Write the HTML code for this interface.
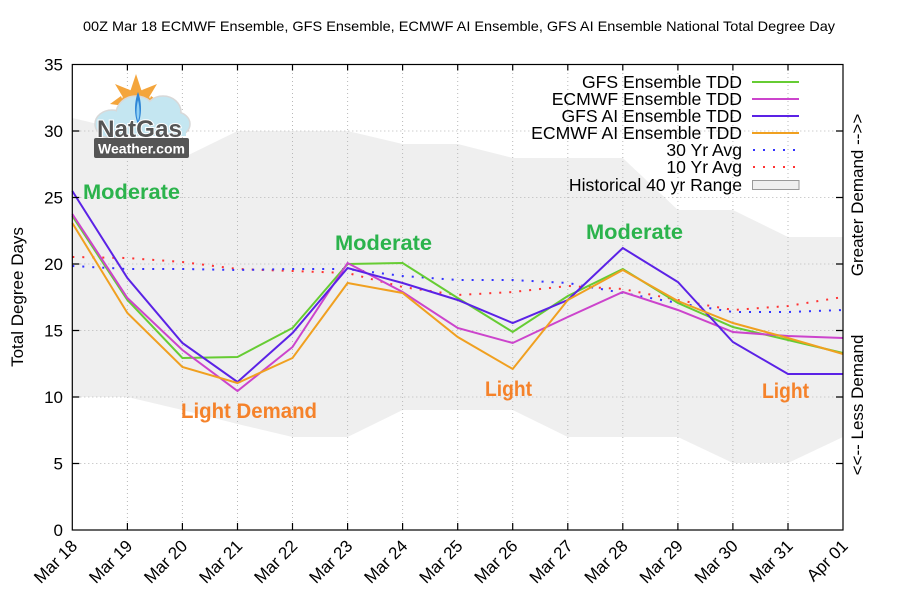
<!DOCTYPE html>
<html><head><meta charset="utf-8"><style>
html,body{margin:0;padding:0;background:#fff;}
svg{display:block;font-family:"Liberation Sans",Arial,sans-serif;}
</style></head><body>
<svg width="900" height="600" viewBox="0 0 900 600" xmlns="http://www.w3.org/2000/svg">
<rect width="900" height="600" fill="#fff"/>
<text x="83" y="31" font-size="14" textLength="752" lengthAdjust="spacingAndGlyphs" fill="#000">00Z Mar 18 ECMWF Ensemble, GFS Ensemble, ECMWF AI Ensemble, GFS AI Ensemble National Total Degree Day</text>

<!-- historical band -->
<polygon fill="#efefef" points="72.3,118 127.4,131 182.4,158 237.5,131 292.5,131 347.6,131 402.6,144 457.7,144 512.7,158 567.8,158 622.8,158 677.9,210 732.9,210 788,237 843,237 843,437 788,463 732.9,463 677.9,437 622.8,437 567.8,437 512.7,410 457.7,410 402.6,410 347.6,437 292.5,437 237.5,424 182.4,410 127.4,397 72.3,397"/>

<!-- grid -->
<g stroke="#b8b8b8" stroke-width="1" stroke-dasharray="1 3" fill="none">
<path d="M72.3,463.5H843M72.3,397H843M72.3,330.5H843M72.3,264H843M72.3,197.5H843M72.3,131H843"/>
<path d="M127.4,65V530M182.4,65V530M237.5,65V530M292.5,65V530M347.6,65V530M402.6,65V530M457.7,65V530M512.7,65V530M567.8,65V530M622.8,65V530M677.9,65V530M732.9,65V530M788,65V530"/>
</g>

<!-- logo -->
<g>
<g fill="#f4a53c">
<polygon points="136,74 130,92 142,92"/>
<polygon points="115,84 124,99 130,90"/>
<polygon points="157,84 148,99 142,90"/>
<polygon points="110,104 125,106 121,96"/>
<polygon points="162,104 147,106 151,96"/>
<circle cx="136" cy="104" r="15"/>
</g>
<g fill="#c4e6f1" stroke="#d8d8d8" stroke-width="1.5">
<ellipse cx="112" cy="124" rx="17" ry="14"/>
<ellipse cx="136" cy="114" rx="20" ry="18"/>
<ellipse cx="163" cy="112" rx="18" ry="16"/>
<ellipse cx="176" cy="124" rx="14" ry="12"/>
</g>
<g fill="#c4e6f1">
<ellipse cx="112" cy="124" rx="16" ry="13"/>
<ellipse cx="136" cy="114" rx="19" ry="17"/>
<ellipse cx="163" cy="112" rx="17" ry="15"/>
<ellipse cx="176" cy="124" rx="13" ry="11"/>
<rect x="100" y="118" width="86" height="18"/>
</g>
<path d="M138,92 C134,102 134,116 138,124 C142,116 142,102 138,92Z" fill="#2f86d6"/>
<path d="M138,100 C136,108 136,116 138,121 C140,116 140,108 138,100Z" fill="#8fd0f5"/>
<text x="97" y="137" font-size="24" font-weight="bold" fill="#555" stroke="#fff" stroke-width="2" paint-order="stroke" textLength="85" lengthAdjust="spacingAndGlyphs">NatGas</text>
<rect x="94" y="138" width="95" height="20" rx="2" fill="#555"/>
<text x="141.5" y="153.5" font-size="14" font-weight="bold" fill="#fff" text-anchor="middle" textLength="87" lengthAdjust="spacingAndGlyphs">Weather.com</text>
</g>

<!-- series -->
<g fill="none" stroke-width="2" stroke-linejoin="miter">
<polyline stroke="#ff3333" stroke-dasharray="2 8" points="72.3,257 127.4,258 182.4,262 237.5,269 292.5,271 347.6,273 402.6,287 457.7,295 512.7,292 567.8,286 622.8,289 677.9,300 732.9,310 788,306 843,297"/>
<polyline stroke="#3333ff" stroke-dasharray="2 8" points="72.3,266 127.4,269 182.4,269 237.5,270 292.5,269 347.6,269 402.6,276 457.7,280 512.7,280 567.8,283 622.8,293 677.9,303 732.9,312 788,312 843,310"/>
<polyline stroke="#66cc33" points="72.3,216 127.4,300 182.4,358 237.5,357 292.5,328 347.6,264 402.6,263 457.7,298 512.7,332 567.8,296 622.8,269 677.9,303 732.9,327 788,340 843,353"/>
<polyline stroke="#cc44cc" points="72.3,214 127.4,298 182.4,350 237.5,391 292.5,347 347.6,263 402.6,292 457.7,328 512.7,343 567.8,317 622.8,292 677.9,310 732.9,332 788,336 843,338"/>
<polyline stroke="#5b22e6" points="72.3,191 127.4,278 182.4,343 237.5,382 292.5,333 347.6,268 402.6,283 457.7,300 512.7,323 567.8,300 622.8,248 677.9,282 732.9,342 788,374 843,374"/>
<polyline stroke="#f0a020" points="72.3,223 127.4,313 182.4,367 237.5,383 292.5,358 347.6,283 402.6,293 457.7,337 512.7,369 567.8,300 622.8,270 677.9,301 732.9,323 788,338 843,354"/>
</g>

<!-- annotations -->
<g font-weight="bold" font-size="21">
<text x="83" y="199" fill="#2bb34c" textLength="97" lengthAdjust="spacingAndGlyphs">Moderate</text>
<text x="335" y="250" fill="#2bb34c" textLength="97" lengthAdjust="spacingAndGlyphs">Moderate</text>
<text x="586" y="239" fill="#2bb34c" textLength="97" lengthAdjust="spacingAndGlyphs">Moderate</text>
<text x="181" y="418" fill="#f5822a" textLength="136" lengthAdjust="spacingAndGlyphs">Light Demand</text>
<text x="485" y="396" fill="#f5822a" textLength="47" lengthAdjust="spacingAndGlyphs">Light</text>
<text x="762" y="398" fill="#f5822a" textLength="47" lengthAdjust="spacingAndGlyphs">Light</text>
</g>

<!-- border and ticks -->
<g stroke="#000" stroke-width="1.2" fill="none">
<rect x="72.3" y="64.5" width="770.7" height="465.5"/>
<path d="M72.3,463.5h7M72.3,397h7M72.3,330.5h7M72.3,264h7M72.3,197.5h7M72.3,131h7"/>
<path d="M843,463.5h-7M843,397h-7M843,330.5h-7M843,264h-7M843,197.5h-7M843,131h-7"/>
<path d="M127.4,530v-7M182.4,530v-7M237.5,530v-7M292.5,530v-7M347.6,530v-7M402.6,530v-7M457.7,530v-7M512.7,530v-7M567.8,530v-7M622.8,530v-7M677.9,530v-7M732.9,530v-7M788,530v-7"/>
<path d="M127.4,64.5v6M182.4,64.5v6M237.5,64.5v6M292.5,64.5v6M347.6,64.5v6M402.6,64.5v6M457.7,64.5v6M512.7,64.5v6M567.8,64.5v6M622.8,64.5v6M677.9,64.5v6M732.9,64.5v6M788,64.5v6"/>
</g>

<!-- y tick labels -->
<g font-size="17" text-anchor="end" fill="#000">
<text x="63" y="536">0</text>
<text x="63" y="469.5">5</text>
<text x="63" y="403">10</text>
<text x="63" y="336.5">15</text>
<text x="63" y="270">20</text>
<text x="63" y="203.5">25</text>
<text x="63" y="137">30</text>
<text x="63" y="70.5">35</text>
</g>

<!-- x tick labels -->
<g font-size="17" text-anchor="end" fill="#000">
<text transform="translate(78.3,547) rotate(-45)">Mar 18</text>
<text transform="translate(133.4,547) rotate(-45)">Mar 19</text>
<text transform="translate(188.4,547) rotate(-45)">Mar 20</text>
<text transform="translate(243.5,547) rotate(-45)">Mar 21</text>
<text transform="translate(298.5,547) rotate(-45)">Mar 22</text>
<text transform="translate(353.6,547) rotate(-45)">Mar 23</text>
<text transform="translate(408.6,547) rotate(-45)">Mar 24</text>
<text transform="translate(463.7,547) rotate(-45)">Mar 25</text>
<text transform="translate(518.7,547) rotate(-45)">Mar 26</text>
<text transform="translate(573.8,547) rotate(-45)">Mar 27</text>
<text transform="translate(628.8,547) rotate(-45)">Mar 28</text>
<text transform="translate(683.9,547) rotate(-45)">Mar 29</text>
<text transform="translate(738.9,547) rotate(-45)">Mar 30</text>
<text transform="translate(794,547) rotate(-45)">Mar 31</text>
<text transform="translate(849,547) rotate(-45)">Apr 01</text>
</g>

<!-- axis titles -->
<text transform="translate(23,297) rotate(-90)" font-size="17" text-anchor="middle" fill="#000">Total Degree Days</text>
<text transform="translate(863,195) rotate(-90)" font-size="17" text-anchor="middle" fill="#000">Greater Demand --&gt;&gt;</text>
<text transform="translate(863,405) rotate(-90)" font-size="17" text-anchor="middle" fill="#000">&lt;&lt;-- Less Demand</text>

<!-- legend -->
<g font-size="17.6" text-anchor="end" fill="#000">
<text x="742" y="88">GFS Ensemble TDD</text>
<text x="742" y="105">ECMWF Ensemble TDD</text>
<text x="742" y="122">GFS AI Ensemble TDD</text>
<text x="742" y="139">ECMWF AI Ensemble TDD</text>
<text x="742" y="156">30 Yr Avg</text>
<text x="742" y="173">10 Yr Avg</text>
<text x="742" y="191">Historical 40 yr Range</text>
</g>
<g fill="none" stroke-width="2">
<path d="M752,82H799" stroke="#66cc33"/>
<path d="M752,99H799" stroke="#cc44cc"/>
<path d="M752,116H799" stroke="#5b22e6"/>
<path d="M752,133H799" stroke="#f0a020"/>
<path d="M753,150H799" stroke="#3333ff" stroke-dasharray="2 8"/>
<path d="M753,167H799" stroke="#ff3333" stroke-dasharray="2 8"/>
</g>
<rect x="752.5" y="180.5" width="46.5" height="9" fill="#efefef" stroke="#999" stroke-width="1"/>
</svg>
</body></html>
